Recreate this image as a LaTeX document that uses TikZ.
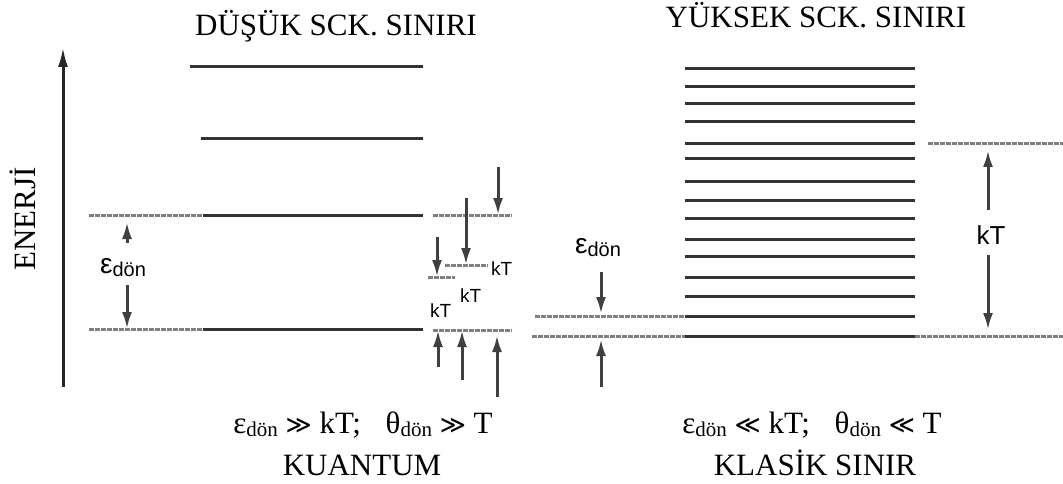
\documentclass[tikz,border=0pt]{standalone}
\usepackage{fontspec}
\setmainfont{Liberation Serif}
\setsansfont{Liberation Sans}
\newfontfamily\symfont{DejaVu Sans}
\usetikzlibrary{arrows.meta}

% subscript "dön" for the serif formulas and the sans labels
\newcommand{\sdon}{\raisebox{-3pt}{\fontsize{21}{21}\selectfont dön}}
\newcommand{\edon}{{\sffamily\fontsize{28}{28}\selectfont ε\raisebox{-3pt}{\fontsize{20}{20}\selectfont dön}}}
\newcommand{\much}[1]{{\symfont\fontsize{25}{25}\selectfont #1}}

\tikzset{
  level/.style={line width=3pt, black!80},
  guide/.style={line width=3pt, black!50, dash pattern=on 5pt off 1pt},
  arr/.style={line width=3pt, black!75, -{Latex[length=17pt,width=10pt]}},
  axisarrow/.style={line width=3pt, black!85, -{Latex[length=20pt,width=10pt]}},
  serif/.style={font=\fontsize{31}{36}\selectfont, inner sep=0pt, anchor=base},
  kt/.style={font=\sffamily\fontsize{19}{20}\selectfont, inner sep=0pt, anchor=base west},
  bigkt/.style={font=\sffamily\fontsize{26}{27}\selectfont, inner sep=0pt},
}

\begin{document}
\begin{tikzpicture}[x=1pt, y=-1pt]
\useasboundingbox (0,0) rectangle (1063,484);

% ---------- titles and captions ----------
\node[serif] (tL) at (336,36) {DÜŞÜK SCK. SINIRI};
\node[serif] (tR) at (816,28) {YÜKSEK SCK. SINIRI};
\node[serif] (cL) at (363,433) {ε\sdon\ \much{≫} kT;\hspace{0.8em}θ\sdon\ \much{≫} T};
\node[serif] (kL) at (362,475) {KUANTUM};
\node[serif] (cR) at (812,433) {ε\sdon\ \much{≪} kT;\hspace{0.8em}θ\sdon\ \much{≪} T};
\node[serif] (kR) at (815,475) {KLASİK SINIR};
\node[serif, rotate=90] (en) at (35,219) {ENERJİ};

% ---------- energy axis ----------
\coordinate (ax0) at (63,387);
\coordinate (ax1) at (63,47);
\draw[axisarrow] (ax0) -- (ax1);

% ---------- quantum case: widely spaced levels ----------
\draw[level] (190,67) -- (423,67);
\draw[level] (201,139) -- (423,139);
\draw[guide] (89,215) -- (203,215);
\draw[level] (203,215) -- (423,215);
\draw[guide] (89,329) -- (203,329);
\draw[level] (203,329) -- (423,329);

% spacing epsilon_rot between the two lowest levels
\node[inner sep=0pt] (eL) at (123,268) {\edon};
\coordinate (eLu0) at (127,243);
\coordinate (eLu1) at (127,222);
\coordinate (eLd0) at (127,285);
\coordinate (eLd1) at (127,329);
\draw[arr] (eLu0) -- (eLu1);
\draw[arr] (eLd0) -- (eLd1);

% small kT gaps beside the levels
\draw[guide] (433,215) -- (512,215);
\draw[guide] (433,330) -- (512,330);
\draw[guide] (445,265) -- (488,265);
\draw[guide] (428,277) -- (455,277);

\coordinate (a1s) at (498,167); \coordinate (a1e) at (498,215);
\coordinate (a2s) at (466,198); \coordinate (a2e) at (466,265);
\coordinate (a3s) at (437,237); \coordinate (a3e) at (437,277);
\coordinate (b1s) at (438,367); \coordinate (b1e) at (438,330);
\coordinate (b2s) at (462,380); \coordinate (b2e) at (462,330);
\coordinate (b3s) at (497,397); \coordinate (b3e) at (497,335);
\foreach \p in {a1,a2,a3,b1,b2,b3} \draw[arr] (\p s) -- (\p e);

\node[kt] (k1) at (491,275) {kT};
\node[kt] (k2) at (460,302) {kT};
\node[kt] (k3) at (430,317) {kT};

% ---------- classical case: dense levels ----------
\foreach \y in {69,87,104,122,144,159,181,200,218,239,256,277,296,316,336}
  \draw[level] (685,\y) -- (915,\y);
\draw[guide] (535,316) -- (685,316);
\draw[guide] (532,336) -- (685,336);
\draw[guide] (928,144) -- (1063,144);
\draw[guide] (915,336) -- (1063,336);

\node[inner sep=0pt] (eR) at (598,248) {\edon};
\coordinate (eRd0) at (601,272); \coordinate (eRd1) at (601,314);
\coordinate (eRu0) at (601,387); \coordinate (eRu1) at (601,339);
\draw[arr] (eRd0) -- (eRd1);
\draw[arr] (eRu0) -- (eRu1);

\node[bigkt] (kT) at (991,235) {kT};
\coordinate (kTu0) at (988,210); \coordinate (kTu1) at (988,150);
\coordinate (kTd0) at (988,255); \coordinate (kTd1) at (988,330);
\draw[arr] (kTu0) -- (kTu1);
\draw[arr] (kTd0) -- (kTd1);
\end{tikzpicture}
\end{document}
